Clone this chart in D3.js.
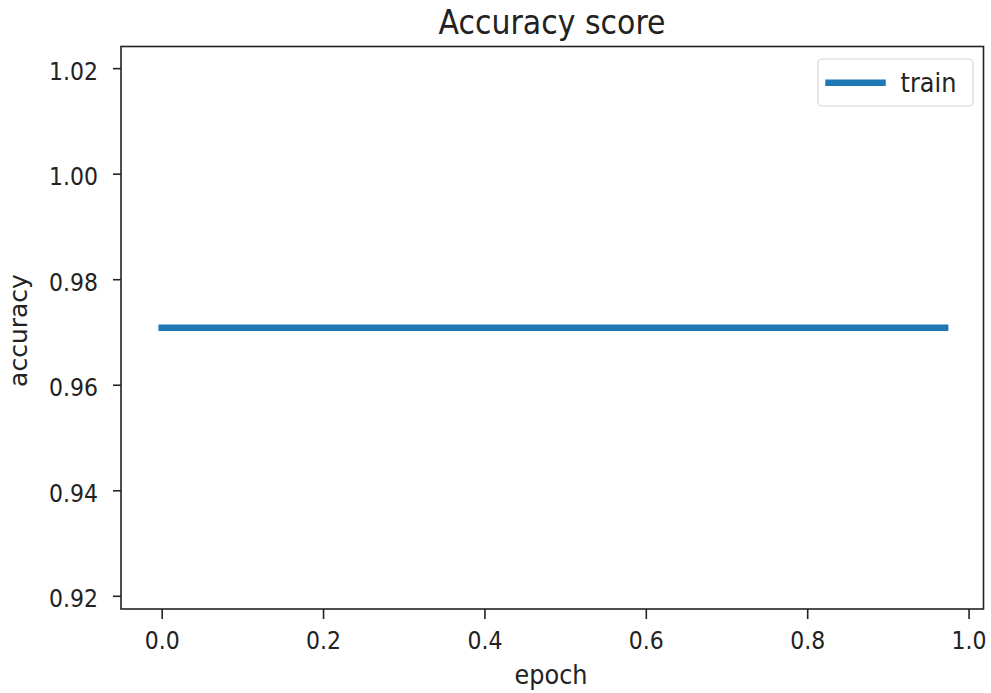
<!DOCTYPE html>
<html>
<head>
<meta charset="utf-8">
<script src="https://cdn.jsdelivr.net/npm/d3@7"></script>
<style>
  html, body { margin: 0; padding: 0; background: #fff; }
  svg { display: block; }
  text { font-family: "DejaVu Sans", sans-serif; fill: #222; }
</style>
</head>
<body>
<script>
// ---- data ----
const epochs = [0, 0.971];
const trainAccuracy = [0.9708, 0.9708];
const seriesName = "train";
const xTickValues = [0.0, 0.2, 0.4, 0.6, 0.8, 1.0];
const xTickLabels = ["0.0", "0.2", "0.4", "0.6", "0.8", "1.0"];
const yTickValues = [0.92, 0.94, 0.96, 0.98, 1.00, 1.02];
const yTickLabels = ["0.92", "0.94", "0.96", "0.98", "1.00", "1.02"];
const titleText = "Accuracy score";
const xLabel = "epoch";
const yLabel = "accuracy";

// ---- layout ----
const W = 991, H = 693;
const plot = { left: 121, right: 983.5, top: 46.5, bottom: 609 };
const SY = 1.12; // vertical stretch of horizontal text seen in the reference

const svg = d3.select("body").append("svg").attr("width", W).attr("height", H);

const x = d3.scaleLinear().domain([-0.0504, 1.0185]).range([plot.left, plot.right]);
const y = d3.scaleLinear().domain([0.9175, 1.0241]).range([plot.bottom, plot.top]);

const points = epochs.map((e, i) => ({ x: e, y: trainAccuracy[i] }));

// line
svg.append("path")
  .datum(points)
  .attr("fill", "none")
  .attr("stroke", "#1f77b4")
  .attr("stroke-width", 6.5)
  .attr("stroke-linecap", "square")
  .attr("d", d3.line().x(d => x(d.x)).y(d => y(d.y)));

// axes
const xAxis = d3.axisBottom(x).tickValues(xTickValues).tickFormat((d, i) => xTickLabels[i]).tickSize(10).tickSizeOuter(0);
const yAxis = d3.axisLeft(y).tickValues(yTickValues).tickFormat((d, i) => yTickLabels[i]).tickSize(8).tickSizeOuter(0);

const gx = svg.append("g").attr("transform", `translate(0,${plot.bottom})`).call(xAxis);
gx.select(".domain").remove();
gx.selectAll(".tick line").attr("stroke", "#222").attr("stroke-width", 1.6);
gx.selectAll(".tick text").attr("font-size", 22).attr("fill", "#222").attr("y", 0).attr("dy", 0)
  .attr("transform", `translate(0,39.5) scale(1,${SY})`);

const gy = svg.append("g").attr("transform", `translate(${plot.left},0)`).call(yAxis);
gy.select(".domain").remove();
gy.selectAll(".tick line").attr("stroke", "#222").attr("stroke-width", 1.6);
gy.selectAll(".tick text").attr("font-size", 22).attr("fill", "#222").attr("x", -23).attr("dy", 0)
  .attr("y", 0).attr("transform", `translate(0,11) scale(1,${SY})`);

// frame
svg.append("rect")
  .attr("x", plot.left).attr("y", plot.top)
  .attr("width", plot.right - plot.left).attr("height", plot.bottom - plot.top)
  .attr("fill", "none").attr("stroke", "#222").attr("stroke-width", 1.6);

// title
svg.append("text").attr("transform", `translate(552,33.5) scale(1,${SY})`).attr("text-anchor", "middle")
  .attr("font-size", 30).text(titleText);

// axis labels
svg.append("text").attr("transform", `translate(551,683.5) scale(1,${SY})`).attr("text-anchor", "middle")
  .attr("font-size", 24).text(xLabel);
svg.append("text").attr("transform", "translate(26.5,330.5) rotate(-90)").attr("text-anchor", "middle")
  .attr("font-size", 25).text(yLabel);

// legend
const lg = svg.append("g");
lg.append("rect").attr("x", 818).attr("y", 59).attr("width", 155).attr("height", 47)
  .attr("rx", 4).attr("fill", "#fff").attr("fill-opacity", 0.8)
  .attr("stroke", "#d6d6d6").attr("stroke-width", 1.2);
lg.append("line").attr("x1", 828.5).attr("x2", 882.5).attr("y1", 82.7).attr("y2", 82.7)
  .attr("stroke", "#1f77b4").attr("stroke-width", 6.5).attr("stroke-linecap", "square");
lg.append("text").attr("transform", `translate(900.5,92) scale(1,${SY})`).attr("font-size", 24).text(seriesName);
</script>
</body>
</html>
